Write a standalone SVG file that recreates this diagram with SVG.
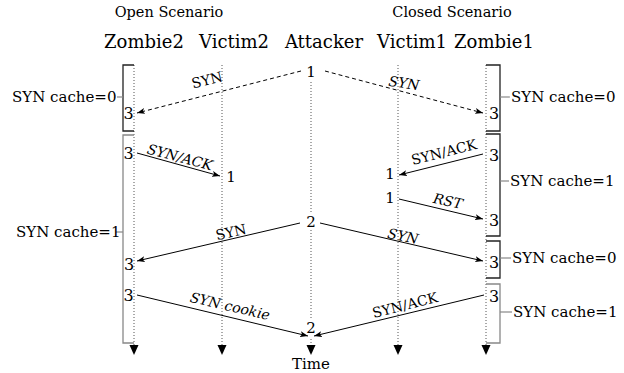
<svg xmlns="http://www.w3.org/2000/svg" width="624" height="373" viewBox="0 0 624 373">
<style>
text{font-family:"DejaVu Serif","Liberation Serif",serif;fill:#000}
.hd{font-size:14.5px;text-anchor:middle}
.nm{font-size:18px;text-anchor:middle}
.st{font-size:15px}
.num{font-size:15px;text-anchor:middle}
.n3{font-size:16px;text-anchor:middle}
.lb{font-size:14px;text-anchor:middle}
.it{font-style:italic}
.life{stroke:#555;stroke-width:1;stroke-dasharray:1 2;fill:none}
.msg{stroke:#000;stroke-width:1;fill:none;marker-end:url(#ah)}
.dash{stroke-dasharray:4 3}
.br{fill:none;stroke:#222;stroke-width:1.3}
.brg{fill:none;stroke:#888;stroke-width:1.3}
.tk{stroke:#888;stroke-width:1.2}
.dn{fill:#000}
</style>
<defs>
<marker id="ah" markerWidth="9" markerHeight="6" refX="8" refY="3" orient="auto" markerUnits="userSpaceOnUse">
<path d="M0,0 L8,3 L0,6 L2,3 z" fill="#000"/>
</marker>
</defs>
<rect width="624" height="373" fill="#fff"/>
<g id="headers">
<text class="hd" x="169" y="17">Open Scenario</text>
<text class="hd" x="452" y="17">Closed Scenario</text>
</g>
<g id="zombie2">
<text class="nm" x="144" y="48">Zombie2</text>
<line class="life" x1="134" y1="65" x2="134" y2="346"/>
<path class="dn" d="M129.5,345 L138.5,345 L134,355 z"/>
</g>
<g id="victim2">
<text class="nm" x="234" y="48">Victim2</text>
<line class="life" x1="222" y1="65" x2="222" y2="346"/>
<path class="dn" d="M217.5,345 L226.5,345 L222,355 z"/>
</g>
<g id="attacker">
<text class="nm" x="324" y="48">Attacker</text>
<line class="life" x1="311" y1="82" x2="311" y2="212"/>
<line class="life" x1="311" y1="230" x2="311" y2="320"/>
<line class="life" x1="311" y1="339" x2="311" y2="346"/>
<path class="dn" d="M306.5,345 L315.5,345 L311,355 z"/>
<text class="st" x="311" y="369" text-anchor="middle">Time</text>
</g>
<g id="victim1">
<text class="nm" x="412" y="48">Victim1</text>
<line class="life" x1="398" y1="65" x2="398" y2="346"/>
<path class="dn" d="M393.5,345 L402.5,345 L398,355 z"/>
</g>
<g id="zombie1">
<text class="nm" x="494" y="48">Zombie1</text>
<line class="life" x1="486" y1="65" x2="486" y2="346"/>
<path class="dn" d="M481.5,345 L490.5,345 L486,355 z"/>
</g>
<g id="brackets">
<path class="br" d="M134,65 H123 V131 H134"/>
<line class="tk" x1="117" y1="97" x2="123" y2="97"/>
<text class="st" x="12" y="102">SYN cache=0</text>
<path class="brg" d="M134,135 H123 V343 H134"/>
<line class="tk" x1="116" y1="232" x2="123" y2="232"/>
<text class="st" x="16" y="237">SYN cache=1</text>
<path class="br" d="M486,65 H500 V131 H486"/>
<line class="tk" x1="500" y1="97" x2="510" y2="97"/>
<text class="st" x="511" y="102">SYN cache=0</text>
<path class="br" d="M486,134 H500 V236 H486"/>
<line class="tk" x1="500" y1="181" x2="509" y2="181"/>
<text class="st" x="510" y="186">SYN cache=1</text>
<path class="br" d="M486,241 H500 V278 H486"/>
<line class="tk" x1="500" y1="258" x2="511" y2="258"/>
<text class="st" x="512" y="263">SYN cache=0</text>
<path class="brg" d="M486,284 H500 V343 H486"/>
<line class="tk" x1="500" y1="312" x2="512" y2="312"/>
<text class="st" x="513" y="317">SYN cache=1</text>
</g>
<g id="numbers">
<text class="num" x="311" y="77">1</text>
<text class="num" x="311" y="227">2</text>
<text class="num" x="311" y="333">2</text>
<text class="n3" x="128.5" y="119">3</text>
<text class="n3" x="128.5" y="159">3</text>
<text class="n3" x="129" y="270">3</text>
<text class="n3" x="128.5" y="301">3</text>
<text class="n3" x="494" y="119">3</text>
<text class="n3" x="494" y="161">3</text>
<text class="n3" x="494" y="226">3</text>
<text class="n3" x="494" y="268">3</text>
<text class="n3" x="494" y="302">3</text>
<text class="num" x="231" y="182">1</text>
<text class="num" x="390" y="179">1</text>
<text class="num" x="390" y="203">1</text>
</g>
<g id="connectors">
<line class="msg dash" x1="301" y1="71" x2="137" y2="113"/>
<line class="msg dash" x1="325" y1="71" x2="483" y2="113"/>
<line class="msg" x1="137" y1="153" x2="220" y2="176"/>
<line class="msg" x1="483" y1="154" x2="399" y2="175"/>
<line class="msg" x1="399" y1="199" x2="483" y2="219"/>
<line class="msg" x1="300" y1="223" x2="137" y2="261"/>
<line class="msg" x1="320" y1="223" x2="483" y2="261"/>
<line class="msg" x1="137" y1="295" x2="308" y2="336"/>
<line class="msg" x1="484" y1="295" x2="314" y2="336"/>
<text class="lb" transform="translate(207,80) rotate(-14)" y="5">SYN</text>
<text class="lb it" transform="translate(404,83) rotate(8)" y="5">SYN</text>
<text class="lb it" transform="translate(180,157) rotate(15)" y="5">SYN/ACK</text>
<text class="lb" transform="translate(444,152) rotate(-14)" y="5">SYN/ACK</text>
<text class="lb it" transform="translate(448,201) rotate(12)" y="5">RST</text>
<text class="lb" transform="translate(231,232) rotate(-13)" y="5">SYN</text>
<text class="lb it" transform="translate(403,236) rotate(12)" y="5">SYN</text>
<text class="lb it" transform="translate(230,306) rotate(13)" y="5">SYN cookie</text>
<text class="lb" transform="translate(405,305) rotate(-14)" y="5">SYN/ACK</text>
</g>
</svg>
